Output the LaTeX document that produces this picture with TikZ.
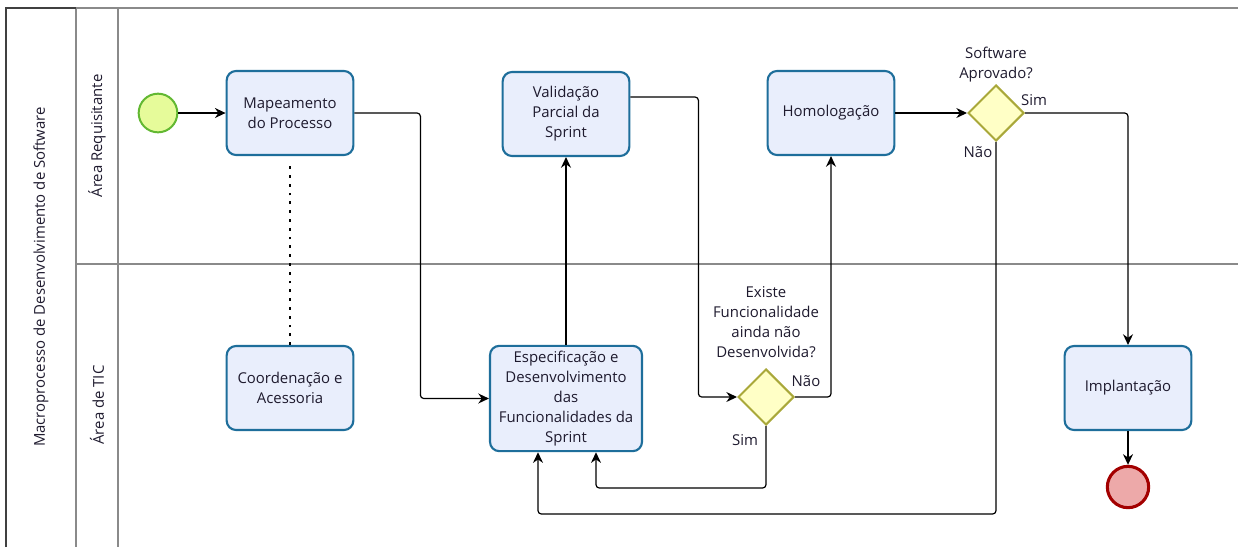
\documentclass[tikz,border=0pt]{standalone}
\usepackage{fontspec}
\setmainfont{Open Sans}
\usepackage{tikz}
\usetikzlibrary{positioning, arrows.meta, shapes.geometric}

\definecolor{taskfill}{HTML}{E9EEFC}
\definecolor{taskline}{HTML}{1E6E9B}
\definecolor{startfill}{HTML}{E6FB9A}
\definecolor{startline}{HTML}{62B832}
\definecolor{gatefill}{HTML}{FFFFC6}
\definecolor{gateline}{HTML}{A9A83A}
\definecolor{endfill}{HTML}{EDA9A9}
\definecolor{endline}{HTML}{A30000}
\definecolor{poolline}{HTML}{8A8A8A}
\definecolor{txt}{HTML}{1E1A2E}

\tikzset{
  every node/.style={font=\fontsize{11.2}{15}\selectfont, text=txt},
  task/.style={draw=taskline, fill=taskfill, line width=1.6pt, rounded corners=7pt,
    minimum width=95pt, minimum height=63pt, align=center, inner sep=1pt},
  gate/.style={diamond, draw=gateline, fill=gatefill, line width=1.5pt,
    minimum width=42pt, minimum height=42pt, inner sep=0pt},
  startev/.style={circle, draw=startline, fill=startfill, line width=1.5pt, minimum size=29pt, inner sep=0pt},
  endev/.style={circle, draw=endline, fill=endfill, line width=2.3pt, minimum size=31pt, inner sep=0pt},
  flow/.style={-{Stealth[length=8pt, width=7.5pt]}, line width=0.9pt, rounded corners=2.5pt},
  assoc/.style={line width=2pt, dash pattern=on 2pt off 4.6pt},
  lanetext/.style={rotate=90, anchor=center},
}

\begin{document}
\begin{tikzpicture}[x=0.75pt, y=-0.75pt]
\useasboundingbox (0,0) rectangle (1238,547);

% pool and lanes
\draw[poolline, line width=0.9pt] (76,8) -- (1238,8);
\draw[poolline, line width=0.8pt] (76,8) -- (76,547);
\draw[poolline, line width=0.8pt] (118,8) -- (118,547);
\draw[poolline, line width=0.8pt] (76,264) -- (1238,264);
\draw[black!75, line width=1.4pt] (6,547) -- (6,8) -- (76,8);
\node[lanetext] (pool) at (41,277) {Macroprocesso de Desenvolvimento de Software};
\node[lanetext] (req) at (97,136) {Área Requisitante};
\node[lanetext] (tic) at (97,405) {Área de TIC};

% events and tasks
\node[startev] (start) at (158,113) {};
\node[task] (map) at (290,113) {Mapeamento\\do Processo};
\node[task] (coord) at (290,388) {Coordenação e\\Acessoria};
\node[task] (val) at (566,114) {Validação\\Parcial da\\Sprint};
\node[task, minimum width=114pt, minimum height=79pt] (spec) at (566,398.5)
  {Especificação e\\Desenvolvimento\\das\\Funcionalidades da\\Sprint};
\node[task] (hom) at (831,113) {Homologação};
\node[task] (impl) at (1128,388) {Implantação};
\node[endev] (end) at (1128,487) {};

% gateways
\node[gate] (gw1) at (766,397) {};
\node[align=center, above=4pt of gw1] (q1) {Existe\\Funcionalidade\\ainda não\\Desenvolvida?};
\node[gate] (gw2) at (996,113) {};
\node[align=center, above=-2pt of gw2] (q2) {Software\\Aprovado?};

% flows
\draw[flow] (start) -- (map);
\draw[flow] (map.east) -- ++(66,0) |- (spec.west);
\draw[flow] (spec.north) -- (val.south);
\draw[flow] ([yshift=12.75pt]val.east) -- ++(68,0) |- (gw1.west);
\draw[flow] (gw1.east) -| (hom.south);
\draw[flow] (gw1.south) -- ++(0,62) -| ([xshift=22.5pt]spec.south);
\draw[flow] (hom.east) -- (gw2.west);
\draw[flow] (gw2.east) -| (impl.north);
\draw[flow] (gw2.south) -- ++(0,372) -| ([xshift=-21pt]spec.south);
\draw[flow] (impl.south) -- (end.north);
\draw[assoc] (coord.north) -- ([yshift=-7pt]map.south);

% gateway answers
\node (nao1) at (806,381) {Não};
\node (sim1) at (745,440) {Sim};
\node (sim2) at (1034,100) {Sim};
\node (nao2) at (978,152) {Não};

\end{tikzpicture}
\end{document}
